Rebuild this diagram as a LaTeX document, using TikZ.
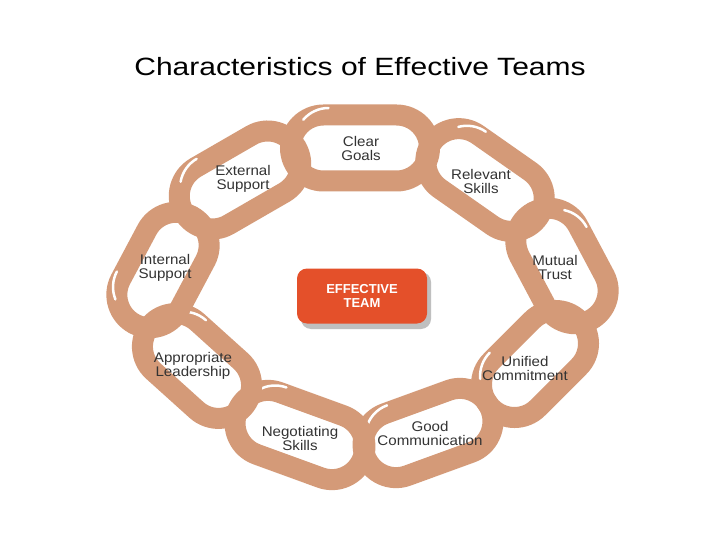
\documentclass[tikz,border=0pt]{standalone}
\usepackage{fontspec}
\setmainfont{Liberation Sans}
\begin{document}
\begin{tikzpicture}[x=1pt,y=-1pt,
  chainlink/.style={draw=linkc,line width=21pt},
  lab/.style={font=\fontsize{14}{14}\selectfont,text=black!80,align=center,xscale=1.08},
]
\definecolor{linkc}{HTML}{D49A78}
\definecolor{teamc}{HTML}{E4502A}
\useasboundingbox (0,0) rectangle (720,540);
\fill[white] (0,0) rectangle (720,540);
\node[xscale=1.2] (title) at (360,67) {\fontsize{25}{28}\selectfont Characteristics of Effective Teams};
\newcommand{\chainlnk}[4]{%
 \begin{scope}[shift={(#1,#2)},rotate=#3]
  \draw[chainlink,rounded corners=33] (-#4/2,-33) rectangle (#4/2,33);
  \draw[white,line width=2.5pt,line cap=round] (-#4/2+38,-40) arc (-90:-140:33);
 \end{scope}}
\chainlnk{360}{148}{0}{139}
\chainlnk{485}{180}{-35}{130}
\chainlnk{562}{266}{-62}{122}
\chainlnk{535}{364}{45}{124}
\chainlnk{428}{433}{20}{134}
\chainlnk{300}{435}{-20}{134}
\chainlnk{197}{366}{-42}{124}
\chainlnk{163}{270}{62}{122}
\chainlnk{240}{180}{30}{130}
\node[lab] (cg) at (361,148) {Clear\\Goals};
\node[lab] (rs) at (481,181) {Relevant\\Skills};
\node[lab] (mt) at (555,267) {Mutual\\Trust};
\node[lab] (uc) at (525,368) {Unified\\Commitment};
\node[lab] (gc) at (430,433) {Good\\Communication};
\node[lab] (ns) at (300,438) {Negotiating\\Skills};
\node[lab] (al) at (193,366) {Appropriate\\Leadership};
\node[lab] (is) at (165,268) {Internal\\Support};
\node[lab] (es) at (243,179) {External\\Support};
\fill[black!25,rounded corners=10] (301,272) rectangle (431,329);
\node[fill=teamc,rounded corners=10,minimum width=130,minimum height=55,text=white,
  font=\bfseries\fontsize{13}{14}\selectfont,align=center] (team) at (362,296) {EFFECTIVE\\TEAM};
\end{tikzpicture}
\end{document}
